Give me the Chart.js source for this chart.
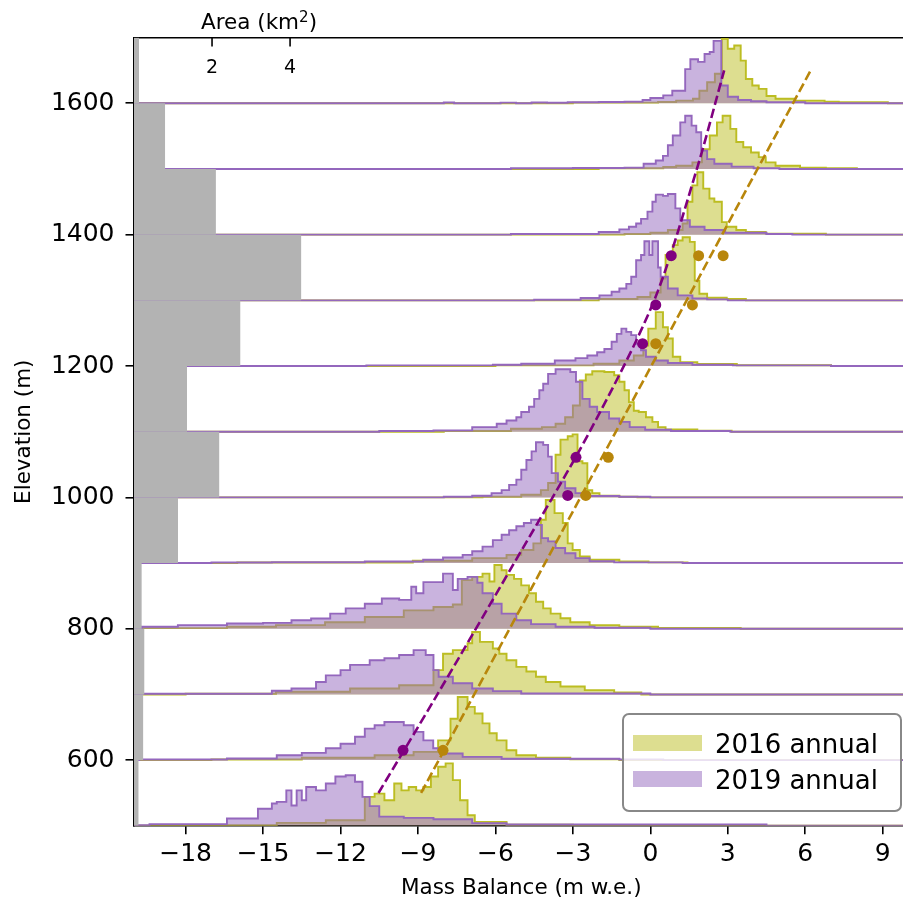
<!DOCTYPE html>
<html>
<head>
<meta charset="utf-8">
<script src="https://cdn.jsdelivr.net/npm/chart.js@4.4.0/dist/chart.umd.min.js"></script>
<style>
  body { margin: 0; overflow: hidden; background: #fff; }
  #wrap { position: relative; width: 914px; height: 906px; }
  #areaTitle { position: absolute; left: 134px; top: 9px; width: 250px; text-align: center;
    font-family: 'DejaVu Sans', sans-serif; font-size: 21.5px; line-height: 25.2px; color: #000; }
  #areaTitle .sup { font-size: 0.7em; position: relative; top: -0.45em; line-height: 0; }
  #legend { position: absolute; left: 622px; top: 713px; width: 280px; height: 99px; box-sizing: border-box;
    border: 2px solid #888; border-radius: 7px; background: rgba(255, 255, 255, 0.8);
    font-family: 'DejaVu Sans', sans-serif; font-size: 26px; color: #000; }
  #legend .patch { position: absolute; left: 9px; width: 69px; height: 16px; }
  #legend .label { position: absolute; left: 91px; line-height: 30px; white-space: nowrap; }
</style>
</head>
<body>
<div id="wrap">
  <canvas id="myChart" width="914" height="906"></canvas>
  <div id="areaTitle">Area (km<span class="sup">2</span>)</div>
  <div id="legend"></div>
</div>
<script>
// elevation bands (bottom of each 100 m band) and glacier area per band
const bandBases = [500, 600, 700, 800, 900, 1000, 1100, 1200, 1300, 1400, 1500, 1600];
const bandHeight = 100;
const areaKm2 = [0.12, 0.24, 0.27, 0.2, 1.13, 2.19, 1.36, 2.73, 4.29, 2.1, 0.8, 0.13];

const xTicks = [-18, -15, -12, -9, -6, -3, 0, 3, 6, 9];
const yTicks = [600, 800, 1000, 1200, 1400, 1600];
const areaTicks = [2, 4];

const seriesNames = ["2016 annual", "2019 annual"];
const seriesFill = ["rgba(188, 189, 34, 0.5)", "rgba(148, 103, 189, 0.5)"];
const seriesEdge = ["#bcbd22", "#9467bd"];

// histograms: [bin left edge (m w.e.), height as fraction of the band]
const h16_500 = [[-19.0,0.01],[-14.47,0.045],[-12.57,0.085],[-11.06,0.44],[-10.68,0.49],[-10.3,0.39],[-9.92,0.645],[-9.64,0.54],[-9.36,0.59],[-9.07,0.54],[-8.79,0.59],[-8.5,0.75],[-8.22,0.9],[-7.93,0.95],[-7.65,0.695],[-7.37,0.39],[-7.08,0.16],[-6.8,0.06],[-5.57,0.015],[-3.0,0]];
const h19_500 = [[-20.0,0.01],[-19.4,0.025],[-16.4,0.11],[-15.2,0.26],[-14.66,0.34],[-14.47,0.365],[-14.1,0.54],[-13.9,0.31],[-13.7,0.54],[-13.5,0.39],[-13.33,0.59],[-12.95,0.54],[-12.57,0.645],[-12.2,0.75],[-11.8,0.77],[-11.44,0.67],[-11.15,0.44],[-10.87,0.3],[-10.5,0.14],[-9.55,0.12],[-8.4,0.1],[-6.9,0.04],[-5.57,0.02],[4.5,0]];
const h16_600 = [[-17.0,0.01],[-13.5,0.035],[-10.68,0.075],[-9.17,0.125],[-8.22,0.3],[-7.74,0.63],[-7.46,0.96],[-7.08,0.81],[-6.8,0.71],[-6.5,0.56],[-6.23,0.41],[-5.95,0.3],[-5.57,0.15],[-5.19,0.075],[-4.43,0.035],[-3.1,0.012],[-1.2,0]];
const h19_600 = [[-19.8,0.01],[-16.4,0.025],[-14.47,0.075],[-13.5,0.11],[-12.57,0.18],[-12.0,0.25],[-11.44,0.355],[-11.06,0.48],[-10.68,0.53],[-10.3,0.58],[-9.55,0.53],[-9.17,0.43],[-8.79,0.3],[-8.41,0.18],[-8.03,0.1],[-7.27,0.05],[-5.76,0.02],[-1.2,0.01],[0.5,0]];
const h16_700 = [[-18.0,0.01],[-14.5,0.04],[-11.63,0.09],[-9.73,0.14],[-8.4,0.37],[-8.03,0.62],[-7.65,0.675],[-7.08,0.78],[-6.9,0.95],[-6.6,0.8],[-6.1,0.7],[-5.85,0.62],[-5.57,0.52],[-5.19,0.42],[-4.8,0.35],[-4.43,0.27],[-4.05,0.19],[-3.48,0.12],[-2.54,0.065],[-1.4,0.03],[-0.35,0]];
const h19_700 = [[-19.7,0.01],[-14.66,0.055],[-13.9,0.09],[-12.95,0.19],[-12.57,0.29],[-12.0,0.37],[-11.63,0.45],[-10.87,0.52],[-10.3,0.55],[-9.73,0.6],[-9.17,0.675],[-8.7,0.6],[-8.4,0.37],[-8.2,0.27],[-7.65,0.17],[-6.9,0.09],[-6.1,0.05],[-5.0,0.015],[0.0,0]];
const h16_800 = [[-20.0,0.01],[-16.4,0.03],[-14.5,0.055],[-12.6,0.1],[-11.06,0.18],[-9.55,0.28],[-8.4,0.33],[-7.65,0.37],[-7.3,0.74],[-6.9,0.79],[-6.5,0.84],[-6.23,0.72],[-6.04,0.97],[-5.76,0.89],[-5.57,0.82],[-5.28,0.76],[-5.0,0.66],[-4.7,0.54],[-4.43,0.41],[-4.15,0.31],[-3.86,0.23],[-3.48,0.16],[-3.1,0.1],[-2.35,0.055],[-1.2,0.03],[0.3,0.012],[3.5,0]];
const h19_800 = [[-19.7,0.03],[-18.3,0.055],[-16.4,0.08],[-15.0,0.09],[-13.9,0.13],[-13.14,0.155],[-12.4,0.23],[-11.8,0.31],[-11.06,0.38],[-10.4,0.46],[-9.73,0.44],[-9.26,0.64],[-9.07,0.54],[-8.79,0.71],[-8.03,0.84],[-7.65,0.59],[-7.46,0.76],[-7.08,0.79],[-6.7,0.7],[-6.5,0.54],[-6.1,0.38],[-5.76,0.23],[-5.19,0.13],[-4.62,0.07],[-3.67,0.03],[-2.16,0.015],[0.0,0]];
const h16_900 = [[-16.0,0.008],[-9.2,0.035],[-6.9,0.075],[-5.57,0.125],[-5.0,0.2],[-4.53,0.3],[-4.24,0.66],[-4.05,0.96],[-3.71,0.76],[-3.39,0.61],[-3.2,0.3],[-3.01,0.2],[-2.73,0.1],[-2.35,0.05],[-1.2,0.025],[-0.07,0.01],[1.44,0]];
const h19_900 = [[-17.0,0.008],[-14.66,0.012],[-11.06,0.025],[-8.8,0.05],[-8.03,0.085],[-7.27,0.125],[-6.9,0.18],[-6.5,0.25],[-6.1,0.35],[-5.76,0.43],[-5.47,0.5],[-5.19,0.56],[-4.9,0.61],[-4.62,0.66],[-4.33,0.58],[-4.2,0.38],[-3.96,0.33],[-3.67,0.23],[-3.3,0.15],[-2.9,0.075],[-2.35,0.03],[-1.4,0.01],[1.25,0]];
const h16_1000 = [[-6.5,0.01],[-5.0,0.04],[-4.24,0.11],[-3.96,0.22],[-3.67,0.65],[-3.48,0.88],[-3.2,0.93],[-3.01,0.96],[-2.82,0.55],[-2.63,0.52],[-2.44,0.11],[-2.25,0.065],[-1.97,0.025],[-1.2,0.01],[-0.5,0]];
const h19_1000 = [[-8.0,0.01],[-6.9,0.025],[-6.15,0.065],[-5.76,0.11],[-5.47,0.19],[-5.19,0.27],[-5.0,0.42],[-4.8,0.57],[-4.6,0.7],[-4.43,0.84],[-4.15,0.8],[-3.96,0.62],[-3.82,0.37],[-3.58,0.24],[-3.3,0.14],[-2.9,0.065],[-2.5,0.02],[-1.2,0.01],[0.0,0]];
const h16_1100 = [[-8.0,0.01],[-5.4,0.045],[-4.2,0.07],[-3.67,0.12],[-3.3,0.22],[-3.0,0.4],[-2.73,0.78],[-2.5,0.87],[-2.25,0.92],[-1.78,0.91],[-1.4,0.86],[-1.2,0.76],[-1.0,0.63],[-0.83,0.45],[-0.64,0.32],[-0.45,0.3],[-0.17,0.22],[0.08,0.15],[0.3,0.07],[0.59,0.035],[1.82,0.015],[3.15,0]];
const h19_1100 = [[-10.5,0.01],[-8.4,0.02],[-6.9,0.07],[-5.95,0.12],[-5.57,0.17],[-5.19,0.22],[-5.0,0.3],[-4.7,0.38],[-4.5,0.5],[-4.3,0.63],[-4.15,0.73],[-3.96,0.88],[-3.67,0.95],[-3.1,0.91],[-2.88,0.76],[-2.63,0.5],[-2.35,0.38],[-2.06,0.3],[-1.6,0.2],[-1.2,0.15],[-0.8,0.07],[-0.2,0.03],[0.8,0.01],[3.1,0]];
const h16_1200 = [[-6.0,0.01],[-2.2,0.035],[-1.2,0.085],[-0.64,0.16],[-0.27,0.31],[-0.08,0.57],[0.21,0.82],[0.49,0.59],[0.68,0.42],[0.87,0.14],[1.16,0.06],[1.82,0.03],[3.35,0.012],[7.0,0]];
const h19_1200 = [[-11.0,0.01],[-6.1,0.02],[-5.0,0.035],[-3.7,0.085],[-2.9,0.12],[-2.44,0.16],[-2.06,0.21],[-1.78,0.26],[-1.5,0.37],[-1.3,0.49],[-1.12,0.57],[-0.93,0.52],[-0.74,0.47],[-0.55,0.34],[-0.36,0.24],[-0.17,0.14],[0.21,0.085],[0.68,0.045],[1.63,0.02],[3.2,0.01],[7.0,0]];
const h16_1300 = [[-2.0,0.02],[-0.5,0.05],[0.0,0.12],[0.4,0.33],[0.59,0.69],[0.87,0.84],[1.06,0.91],[1.25,0.96],[1.53,0.89],[1.72,0.3],[1.9,0.1],[2.2,0.04],[2.96,0.02],[3.7,0]];
const h19_1300 = [[-4.5,0.01],[-2.7,0.035],[-1.97,0.075],[-1.5,0.13],[-1.2,0.18],[-0.93,0.25],[-0.74,0.36],[-0.55,0.61],[-0.36,0.69],[-0.23,0.9],[-0.04,0.69],[0.08,0.9],[0.3,0.5],[0.4,0.36],[0.68,0.18],[1.06,0.075],[1.63,0.03],[2.2,0.015],[3.0,0]];
const h16_1400 = [[-1.0,0.01],[0.0,0.03],[0.68,0.07],[1.25,0.17],[1.44,0.5],[1.63,0.75],[1.82,0.95],[2.05,0.7],[2.29,0.55],[2.48,0.5],[2.77,0.19],[2.96,0.12],[3.33,0.07],[3.7,0.04],[4.47,0.015],[6.8,0]];
const h19_1400 = [[-5.4,0.01],[-2.0,0.04],[-1.2,0.08],[-0.83,0.12],[-0.55,0.17],[-0.36,0.24],[-0.11,0.35],[0.08,0.5],[0.21,0.61],[0.49,0.59],[0.68,0.62],[0.97,0.4],[1.16,0.22],[1.53,0.12],[2.1,0.07],[2.9,0.03],[4.5,0.01],[5.5,0]];
const h16_1500 = [[-2.0,0.01],[0.5,0.03],[1.0,0.05],[1.63,0.1],[2.0,0.3],[2.3,0.51],[2.58,0.71],[2.8,0.81],[3.1,0.61],[3.33,0.41],[3.6,0.33],[3.9,0.25],[4.2,0.18],[4.47,0.1],[4.85,0.05],[5.8,0.02],[6.8,0.01],[8.0,0]];
const h19_1500 = [[-5.4,0.01],[-3.0,0.015],[-1.0,0.02],[-0.26,0.08],[0.21,0.13],[0.49,0.2],[0.68,0.36],[0.87,0.51],[1.16,0.71],[1.35,0.81],[1.6,0.66],[1.78,0.56],[1.97,0.28],[2.2,0.15],[2.48,0.08],[3.15,0.035],[4.0,0.012],[5.0,0]];
const h16_1600 = [[-3.0,0.01],[0.3,0.02],[1.0,0.04],[1.65,0.07],[1.9,0.19],[2.2,0.32],[2.5,0.45],[2.77,0.98],[3.0,0.83],[3.25,0.88],[3.5,0.65],[3.7,0.37],[3.95,0.27],[4.2,0.22],[4.5,0.11],[4.85,0.07],[5.6,0.04],[6.75,0.025],[7.3,0.015],[9.2,0]];
const h19_1600 = [[-8.0,0.012],[-7.6,0],[-5.8,0.01],[-5.2,0],[-4.6,0.012],[-4.0,0.008],[-3.2,0.015],[-2.0,0.02],[-1.0,0.025],[-0.3,0.05],[0.0,0.08],[0.5,0.12],[0.85,0.19],[1.35,0.52],[1.55,0.67],[1.85,0.63],[2.1,0.75],[2.3,0.78],[2.45,0.95],[2.75,0.27],[3.0,0.1],[3.4,0.05],[3.9,0.03],[4.5,0.015],[6.0,0]];

const hist2016 = [h16_500, h16_600, h16_700, h16_800, h16_900, h16_1000, h16_1100, h16_1200, h16_1300, h16_1400, h16_1500, h16_1600];
const hist2019 = [h19_500, h19_600, h19_700, h19_800, h19_900, h19_1000, h19_1100, h19_1200, h19_1300, h19_1400, h19_1500, h19_1600];

// point measurements
const pts2019Elev = [615, 1003, 1061, 1234, 1293, 1368];
const pts2019Mb = [-9.58, -3.2, -2.88, -0.3, 0.21, 0.81];
const pts2016Elev = [615, 1003, 1061, 1234, 1293, 1368, 1368];
const pts2016Mb = [-8.03, -2.5, -1.63, 0.21, 1.63, 1.87, 2.82];

// gradient lines
const line2019Elev = [550, 696, 893, 1100, 1300, 1501, 1650];
const line2019Mb = [-10.53, -8.31, -5.38, -2.35, 0.15, 1.81, 2.86];
const line2016Elev = [550, 1650];
const line2016Mb = [-8.88, 6.21];

const xMin = -20;
const xMax = 10;
const areaMax = 19.85;

function fmt(v) {
  return v < 0 ? "\u2212" + Math.abs(v) : String(v);
}

function stepPoints(pairs, base) {
  const pts = [{ x: xMin, y: base }];
  pairs.forEach(function (p) {
    pts.push({ x: p[0], y: base + p[1] * bandHeight });
  });
  pts.push({ x: xMax, y: base });
  return pts;
}

function xy(xs, ys) {
  return xs.map(function (x, i) {
    return { x: x, y: ys[i] };
  });
}

const datasets = [];

datasets.push({
  data: xy(pts2019Mb, pts2019Elev),
  showLine: false, pointRadius: 5.5, pointBackgroundColor: "purple", pointBorderWidth: 0,
});
datasets.push({
  data: xy(pts2016Mb, pts2016Elev),
  showLine: false, pointRadius: 5.5, pointBackgroundColor: "darkgoldenrod", pointBorderWidth: 0,
});
datasets.push({
  data: xy(line2019Mb, line2019Elev),
  borderColor: "purple", borderWidth: 2.6, borderDash: [9.5, 4], tension: 0.3, pointRadius: 0, fill: false,
});
datasets.push({
  data: xy(line2016Mb, line2016Elev),
  borderColor: "darkgoldenrod", borderWidth: 2.6, borderDash: [9.5, 4], pointRadius: 0, fill: false,
});

// grey area bars, one rectangle per band on the area axis
bandBases.forEach(function (base, i) {
  datasets.push({
    xAxisID: "xArea",
    data: [{ x: 0, y: base + bandHeight }, { x: areaKm2[i], y: base + bandHeight }],
    borderWidth: 0, pointRadius: 0, backgroundColor: "#b3b3b3", fill: { value: base },
  });
});

bandBases.forEach(function (base, i) {
  datasets.push({
    data: stepPoints(hist2019[i], base),
    stepped: "before", borderColor: seriesEdge[1], borderWidth: 1.9, backgroundColor: seriesFill[1],
    pointRadius: 0, fill: { value: base },
  });
  datasets.push({
    data: stepPoints(hist2016[i], base),
    stepped: "before", borderColor: seriesEdge[0], borderWidth: 1.9, backgroundColor: seriesFill[0],
    pointRadius: 0, fill: { value: base },
  });
});

// area axis ticks sit inside the frame, below the top spine
const areaTickPlugin = {
  id: "areaTicks",
  afterDatasetsDraw: function (chart) {
    const scale = chart.scales.xArea;
    const top = chart.chartArea.top;
    const c = chart.ctx;
    c.save();
    c.strokeStyle = "#000";
    c.lineWidth = 1.6;
    c.fillStyle = "#000";
    c.font = "19px 'DejaVu Sans', sans-serif";
    c.textAlign = "center";
    c.textBaseline = "middle";
    areaTicks.forEach(function (v) {
      const px = scale.getPixelForValue(v);
      c.beginPath();
      c.moveTo(px, top);
      c.lineTo(px, top + 9);
      c.stroke();
      c.fillText(String(v), px, top + 30.5);
    });
    c.restore();
  },
};

Chart.defaults.font.family = "'DejaVu Sans', sans-serif";
Chart.defaults.color = "#000";

const axisLine = { drawOnChartArea: false, color: "#000", lineWidth: 1.6, tickLength: 8.5 };
const axisBorder = { display: true, color: "#000", width: 1.6 };

const ctx = document.getElementById("myChart").getContext("2d");
const myChart = new Chart(ctx, {
  type: "line",
  data: { datasets: datasets },
  plugins: [areaTickPlugin],
  options: {
    responsive: false,
    animation: false,
    layout: { padding: 0 },
    plugins: { legend: { display: false }, tooltip: { enabled: false } },
    scales: {
      x: {
        type: "linear", position: "bottom", min: xMin, max: xMax,
        afterBuildTicks: function (s) { s.ticks = xTicks.map(function (v) { return { value: v }; }); },
        afterFit: function (s) { s.height = 80.2; },
        ticks: { font: { size: 25 }, padding: 5.5, maxRotation: 0, autoSkip: false, callback: fmt },
        grid: axisLine,
        border: axisBorder,
        title: { display: true, text: "Mass Balance (m w.e.)", font: { size: 21.5 }, padding: { top: 0, bottom: 5 } },
      },
      xArea: {
        type: "linear", position: "top", min: 0, max: areaMax,
        afterFit: function (s) { s.height = 37.6; },
        ticks: { display: false },
        grid: { display: false },
        border: axisBorder,
      },
      y: {
        type: "linear", position: "left", min: 500, max: 1700,
        afterBuildTicks: function (s) { s.ticks = yTicks.map(function (v) { return { value: v }; }); },
        afterFit: function (s) { s.width = 134; },
        ticks: { font: { size: 25 }, padding: 11, callback: function (v) { return String(v); } },
        grid: axisLine,
        border: axisBorder,
        title: { display: true, text: "Elevation (m)", font: { size: 21.5 }, padding: { top: 12, bottom: 0 } },
      },
    },
  },
});

// legend box
const legend = document.getElementById("legend");
seriesNames.forEach(function (name, i) {
  const patch = document.createElement("div");
  patch.className = "patch";
  patch.style.top = 20 + i * 36 + "px";
  patch.style.background = seriesFill[i];
  legend.appendChild(patch);
  const label = document.createElement("div");
  label.className = "label";
  label.style.top = 13.5 + i * 36 + "px";
  label.textContent = name;
  legend.appendChild(label);
});
</script>
</body>
</html>
